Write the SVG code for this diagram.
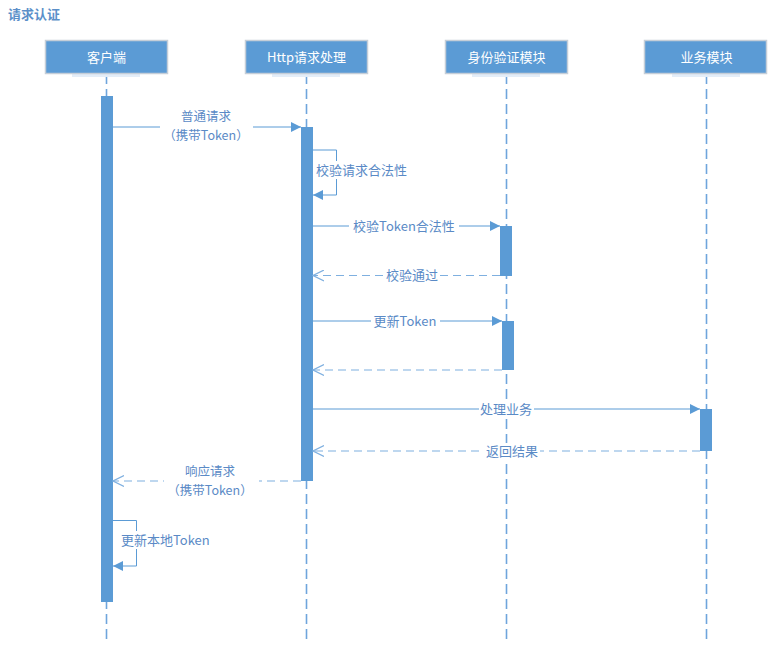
<svg xmlns="http://www.w3.org/2000/svg" width="773" height="649" viewBox="0 0 773 649">
<style>
text{font-family:"Noto Sans CJK SC","Liberation Sans",sans-serif;font-size:13px;text-spacing-trim:space-all}
.title{fill:#5b8fc9;font-weight:bold}
.hbox{fill:#5b9bd5;stroke:#c5ced8;stroke-width:1.5}
.htxt{fill:#ffffff;text-anchor:middle}
.life{stroke:#6fa5dc;stroke-width:1.6;stroke-dasharray:10,5;fill:none}
.bar{fill:#5b9bd5}
.msg{stroke:#5b9bd5;stroke-width:1;fill:none}
.ret{stroke:#7fb0e0;stroke-width:1.2;stroke-dasharray:8,5;fill:none}
.lbl{fill:#5a8ac6}
.mid{text-anchor:middle}
.bg{fill:#ffffff}
.sm{font-size:12.5px}
</style>
<defs>
<marker id="solid" viewBox="0 0 10 10" refX="10" refY="5" markerWidth="10" markerHeight="10" markerUnits="userSpaceOnUse" orient="auto">
<path d="M0,0 L10,5 L0,10 Z" fill="#5b9bd5"/>
</marker>
<marker id="open" viewBox="0 0 12 12" refX="11" refY="6" markerWidth="12" markerHeight="12" markerUnits="userSpaceOnUse" orient="auto">
<path d="M0,0.5 L11,6 L0,11.5" fill="none" stroke="#7fb0e0" stroke-width="1.2"/>
</marker>
</defs>
<rect width="773" height="649" fill="#ffffff"/>
<text class="title" x="8" y="19">请求认证</text>

<g id="lifelines">
<line class="life" x1="106.5" y1="74" x2="106.5" y2="642"/>
<line class="life" x1="306.5" y1="74" x2="306.5" y2="642"/>
<line class="life" x1="506.5" y1="74" x2="506.5" y2="642"/>
<line class="life" x1="706.5" y1="74" x2="706.5" y2="642"/>
</g>

<g id="client">
<rect x="72" y="74" width="68" height="3" fill="#e3edf8"/>
<rect class="hbox" x="45.5" y="40.5" width="122" height="33"/>
<text class="htxt" x="106.5" y="61.5">客户端</text>
<rect class="bar" x="101" y="96" width="12" height="506"/>
</g>
<g id="http">
<rect x="272" y="74" width="68" height="3" fill="#e3edf8"/>
<rect class="hbox" x="245.5" y="40.5" width="122" height="33"/>
<text class="htxt" x="306.5" y="61.5">Http请求处理</text>
<rect class="bar" x="301" y="127" width="12" height="354"/>
</g>
<g id="auth">
<rect x="472" y="74" width="68" height="3" fill="#e3edf8"/>
<rect class="hbox" x="445.5" y="40.5" width="122" height="33"/>
<text class="htxt" x="506.5" y="61.5">身份验证模块</text>
<rect class="bar" x="500" y="226" width="12" height="50"/>
<rect class="bar" x="502" y="321" width="12" height="49"/>
</g>
<g id="business">
<rect x="672" y="74" width="68" height="3" fill="#e3edf8"/>
<rect class="hbox" x="644.5" y="40.5" width="122" height="33"/>
<text class="htxt" x="706.5" y="61.5">业务模块</text>
<rect class="bar" x="700" y="409" width="12" height="42"/>
</g>

<g id="connectors">
<!-- 1 -->
<line class="msg" x1="113" y1="127" x2="301" y2="127" marker-end="url(#solid)"/>
<rect class="bg" x="160" y="109" width="93" height="34"/>
<text class="lbl mid sm" x="206" y="121">普通请求</text>
<text class="lbl mid sm" x="206" y="139.5">（携带Token）</text>
<!-- 2 self -->
<polyline class="msg" points="313,150 336.5,150 336.5,195 313,195" marker-end="url(#solid)"/>
<rect class="bg" x="315" y="161" width="95" height="18"/>
<text class="lbl" x="316" y="174.5">校验请求合法性</text>
<!-- 3 -->
<line class="msg" x1="313" y1="226" x2="500" y2="226" marker-end="url(#solid)"/>
<rect class="bg" x="349" y="218" width="110" height="16"/>
<text class="lbl mid" x="404" y="230.5">校验Token合法性</text>
<!-- 4 -->
<line class="ret" x1="500" y1="275.5" x2="313" y2="275.5" marker-end="url(#open)"/>
<rect class="bg" x="384" y="267" width="56" height="17"/>
<text class="lbl mid" x="412" y="280">校验通过</text>
<!-- 5 -->
<line class="msg" x1="313" y1="321" x2="502" y2="321" marker-end="url(#solid)"/>
<rect class="bg" x="371" y="313" width="69" height="16"/>
<text class="lbl mid" x="405" y="325.5">更新Token</text>
<!-- 6 -->
<line class="ret" x1="502" y1="370" x2="313" y2="370" marker-end="url(#open)"/>
<!-- 7 -->
<line class="msg" x1="313" y1="409" x2="700" y2="409" marker-end="url(#solid)"/>
<rect class="bg" x="479" y="401" width="55" height="16"/>
<text class="lbl mid" x="506" y="413.5">处理业务</text>
<!-- 8 -->
<line class="ret" x1="700" y1="451" x2="313" y2="451" marker-end="url(#open)"/>
<rect class="bg" x="484" y="443" width="56" height="16"/>
<text class="lbl mid" x="512" y="455.5">返回结果</text>
<!-- 9 -->
<line class="ret" x1="301" y1="481" x2="113" y2="481" marker-end="url(#open)"/>
<rect class="bg" x="164" y="463" width="95" height="35"/>
<text class="lbl mid sm" x="210" y="476">响应请求</text>
<text class="lbl mid sm" x="210" y="494.5">（携带Token）</text>
<!-- 10 self -->
<polyline class="msg" points="113,520.5 136.5,520.5 136.5,566 113,566" marker-end="url(#solid)"/>
<rect class="bg" x="120" y="531" width="94" height="18"/>
<text class="lbl" x="121" y="544.5">更新本地Token</text>
</g>
</svg>
